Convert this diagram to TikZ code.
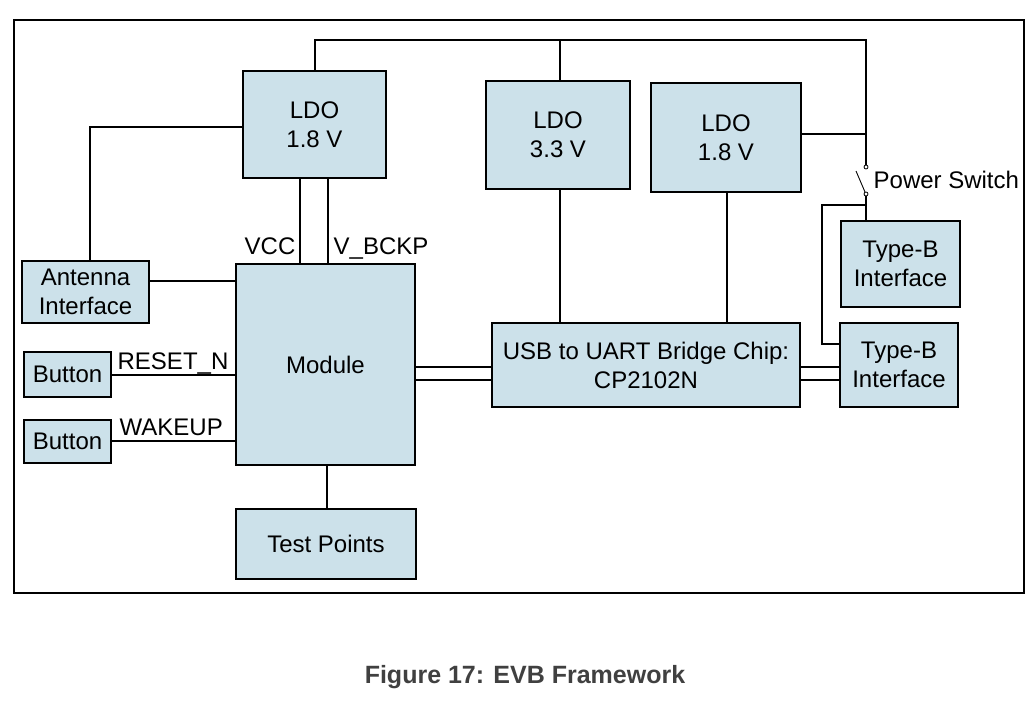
\documentclass[tikz,border=0pt]{standalone}
\usepackage{fontspec}
\setmainfont{Liberation Sans}
\begin{document}
\begin{tikzpicture}[x=1pt,y=-1pt,line width=1.3pt,
  box/.style={draw,fill={rgb,255:red,204;green,225;blue,234},align=center,font=\fontsize{24}{29}\selectfont,inner sep=0},
  lbl/.style={font=\fontsize{24}{29}\selectfont,inner sep=0}]
\useasboundingbox (0,0) rectangle (1031,701);
\draw[line width=2pt] (14,20) rectangle (1024,593);
\def\bx#1#2#3#4#5#6{\node[box,minimum width=#4-#2,minimum height=#5-#3] (#1) at ({(#2+#4)/2},{(#3+#5)/2}) {#6};}
\bx{ldoa}{243}{71}{386}{178}{LDO\\1.8 V}
\bx{ldob}{486}{81}{630}{189}{LDO\\3.3 V}
\bx{ldoc}{651}{83}{801}{192}{LDO\\1.8 V}
\bx{ant}{22}{261}{149}{323}{Antenna\\Interface}
\bx{mod}{236}{264}{415}{465}{Module}
\bx{btna}{24}{352}{111}{397}{Button}
\bx{btnb}{24}{420}{111}{463}{Button}
\bx{tp}{236}{509}{416}{579}{Test Points}
\bx{usb}{492}{323}{800}{407}{USB to UART Bridge Chip:\\CP2102N}
\bx{tba}{841}{221}{960}{307}{Type-B\\Interface}
\bx{tbb}{840}{323}{958}{407}{Type-B\\Interface}
\coordinate (swa) at (866,167);
\coordinate (swb) at (866,194);
% power bus
\draw (ldoa.north -| 315,0) -- (315,40) -| (560,81);
\draw (560,40) -| (swa);
\draw (ldoc.east |- 0,134) -- (866,134);
\draw (swa) ++(0,-2) -- (866,134);
\draw[line width=0.8pt,fill=white] (swa) circle (2pt) (swb) circle (2pt);
\draw[line width=0.9pt] (swb) ++(-1,-2) -- (856,171);
\node[lbl,anchor=west] (psw) at (873,180) {Power Switch};
\draw (866,196) -- (tba.north -| 866,0);
\draw (866,205) -- (822,205) |- (tbb.west |- 0,344);
% antenna
\draw (ant.north -| 90,0) |- (ldoa.west |- 0,127);
\draw (ant.east |- 0,281) -- (mod.west |- 0,281);
% VCC lines
\draw (ldoa.south -| 300,0) -- (mod.north -| 300,0);
\draw (ldoa.south -| 328,0) -- (mod.north -| 328,0);
\node[lbl,anchor=base east] (vcc) at (296,254) {VCC};
\node[lbl,anchor=base west] (vb) at (333,254) {V\_BCKP};
% buttons
\draw (btna.east |- 0,375) -- (mod.west |- 0,375);
\draw (btnb.east |- 0,441) -- (mod.west |- 0,441);
\node[lbl,anchor=base west] (rst) at (117,369) {RESET\_N};
\node[lbl,anchor=base west] (wk) at (119,435) {WAKEUP};
% module-usb
\draw (mod.east |- 0,367) -- (usb.west |- 0,367);
\draw (mod.east |- 0,380) -- (usb.west |- 0,380);
\draw (usb.east |- 0,367) -- (tbb.west |- 0,367);
\draw (usb.east |- 0,380) -- (tbb.west |- 0,380);
\draw (ldob.south -| 560,0) -- (usb.north -| 560,0);
\draw (ldoc.south -| 727,0) -- (usb.north -| 727,0);
\draw (mod.south -| 327,0) -- (tp.north -| 327,0);
\node[font=\fontsize{25}{30}\selectfont\bfseries,text={rgb,255:red,64;green,64;blue,64}] (cap) at (525,677) {Figure 17: EVB Framework};
\end{tikzpicture}
\end{document}
